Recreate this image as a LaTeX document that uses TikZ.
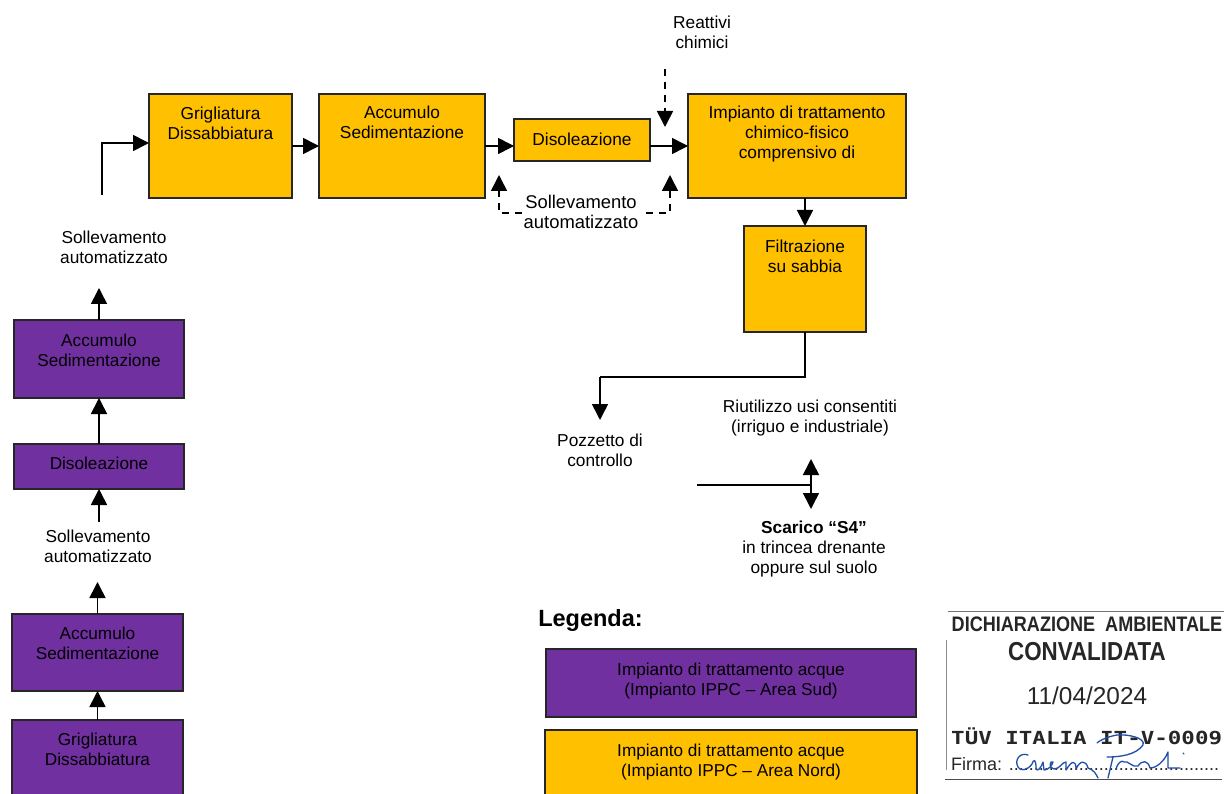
\documentclass[tikz,border=0pt]{standalone}
\usepackage{fontspec}
\setmainfont{Liberation Sans}
\newfontfamily\stampmono{DejaVu Sans Mono}
\usetikzlibrary{arrows.meta}
\definecolor{nordorange}{HTML}{FFC000}
\definecolor{sudpurple}{HTML}{7030A0}
\definecolor{inkblue}{HTML}{1F4FA8}
\newcommand{\boxtxt}[4]{\parbox[c][#2pt][t]{#1pt}{\centering\vspace{#3pt}#4}}
\tikzset{
  plant/.style={draw=black!85, line width=2pt, inner sep=0pt, outer sep=0pt, font=\fontsize{17.3}{20}\selectfont},
  north/.style={plant, fill=nordorange},
  south/.style={plant, fill=sudpurple, font=\fontsize{17.2}{19.6}\selectfont},
  flow/.style={line width=1.6pt, -{Triangle[length=16pt,width=16pt]}},
  flowdash/.style={flow, dash pattern=on 7pt off 6pt},
  note/.style={align=center, inner sep=0pt, font=\fontsize{17.3}{20}\selectfont},
  stamp/.style={inner sep=0pt, text=black!85},
  signature/.style={inkblue, line width=1.3pt, line cap=round, line join=round}
}
\begin{document}
\begin{tikzpicture}[x=1pt,y=-1pt]
  \clip (0,0) rectangle (1224,794);
  % plant north
  \node[north] (griglia) at (220.5,146) {\boxtxt{143}{104}{13}{Grigliatura\\Dissabbiatura}};
  \node[north] (accumulo) at (402,146) {\boxtxt{166}{104}{12}{Accumulo\\Sedimentazione}};
  \node[north] (disoleaz) at (582,140) {\boxtxt{136}{42}{14}{Disoleazione}};
  \node[north] (impianto) at (797,146) {\boxtxt{218}{104}{12}{Impianto di trattamento\\chimico-fisico\\comprensivo di}};
  \node[north] (filtraz) at (805,279) {\boxtxt{122}{106}{14}{Filtrazione\\su sabbia}};
  % plant south
  \node[south] (accumP) at (99,359) {\boxtxt{170}{78}{14}{Accumulo\\Sedimentazione}};
  \node[south] (disolP) at (99,466.5) {\boxtxt{170}{45}{13}{Disoleazione}};
  \node[south] (accumS) at (97.5,652.5) {\boxtxt{171}{77}{13}{Accumulo\\Sedimentazione}};
  \node[south] (grigliaS) at (97.5,775) {\boxtxt{171}{110}{13}{Grigliatura\\Dissabbiatura}};
  % labels
  \node[note] (reattivi) at (702,32) {Reattivi\\chimici};
  \node[note] (sollevA) at (114,247) {Sollevamento\\automatizzato};
  \node[note] (sollevB) at (98,546) {Sollevamento\\automatizzato};
  \node[note, font=\fontsize{18.4}{20}\selectfont] (sollevC) at (581,212) {Sollevamento\\automatizzato};
  \node[note] (riuso) at (810,418) {Riutilizzo usi consentiti\\(irriguo e industriale)};
  \node[note] (pozzetto) at (600,450) {Pozzetto di\\controllo};
  \node[note] (scarico) at (814,549) {\textbf{Scarico “S4”}\\in trincea drenante\\oppure sul suolo};
  % free ends
  \coordinate (start) at (102,195);
  \coordinate (ingriglia) at (149,143);
  \coordinate (inchem) at (665,69);
  \coordinate (tipchem) at (665,127);
  \coordinate (tipoilA) at (499,175);
  \coordinate (tipoilB) at (670,175);
  \coordinate (tipS) at (99,288);
  \coordinate (fork) at (811,485);
  \coordinate (forkin) at (697,485);
  \coordinate (tipup) at (811,459);
  \coordinate (tipdown) at (811,509);
  \coordinate (bendP) at (600,377);
  \coordinate (tipP) at (600,420);
  \coordinate (liftout) at (99,522);
  \coordinate (liftin) at (97.5,582);
  % arrows
  \draw[flow] (start) |- (ingriglia);
  \draw[flow] (griglia.east) -- (accumulo.west);
  \draw[flow] (accumulo.east) -- (accumulo.east -| disoleaz.west);
  \draw[flow] (impianto.west -| disoleaz.east) -- (impianto.west);
  \draw[flow] (filtraz.north |- impianto.south) -- (filtraz.north);
  \draw[line width=1.6pt] (filtraz.south) |- (bendP);
  \draw[flow] (bendP) -- (tipP);
  \draw[flow] (forkin) -- (fork) -- (tipup);
  \draw[flow] (fork) -- (tipdown);
  % dashed ones
  \draw[flowdash] ([xshift=-2pt]sollevC.west |- 0,213) -| (tipoilA);
  \draw[flowdash] ([xshift=8pt]sollevC.east |- 0,213) -| (tipoilB);
  \draw[flowdash] (inchem) -- (tipchem);
  % left column
  \draw[flow] (accumP.north) -- (tipS);
  \draw[flow] (disolP.north) -- (accumP.south);
  \draw[flow] (liftout) -- (disolP.south);
  \draw[flow] (accumS.north) -- (liftin);
  \draw[flow] (grigliaS.north) -- (accumS.south);
  % legend
  \node[inner sep=0pt, font=\fontsize{23.5}{26}\selectfont\bfseries] (legenda) at (590.5,620) {Legenda:};
  \node[south] (legS) at (731,683) {\boxtxt{370}{68}{14}{Impianto di trattamento acque\\(Impianto IPPC – Area Sud)}};
  \node[south, fill=nordorange] (legN) at (731,785) {\boxtxt{372}{110}{14}{Impianto di trattamento acque\\(Impianto IPPC – Area Nord)}};
  % stamp
  \draw[black!45, line width=0.7pt] (946,770) -- (946,640);
  \draw[black!55, line width=0.8pt] (948,611) -- (1224,611);
  \draw[black!70, line width=0.9pt] (945,779) -- (1222,779);
  \node[stamp] (dich) at (1087,624) {\fontsize{21}{22}\selectfont\bfseries\scalebox{0.86}[1]{DICHIARAZIONE\ \ AMBIENTALE}};
  \node[stamp] (conv) at (1087,652) {\fontsize{26}{28}\selectfont\bfseries\scalebox{0.86}[1]{CONVALIDATA}};
  \node[stamp] (datum) at (1087,696) {\fontsize{24.4}{26}\selectfont 11/04/2024};
  \node[stamp, anchor=west] (tuev) at (951,736) {\fontsize{22.5}{24}\selectfont\stampmono\bfseries\scalebox{1}[0.8]{TÜV ITALIA IT-V-0009}};
  \node[stamp, anchor=west] (firma) at (951,764) {\fontsize{18}{20}\selectfont Firma: ..........................................};
  % signature
  \draw[signature] (1028,755) .. controls (1020,752) and (1014,760) .. (1018,767)
    .. controls (1020,772) and (1028,770) .. (1032,764) .. controls (1034,758) and (1036,760) .. (1036,768)
    .. controls (1037,772) and (1040,770) .. (1043,762) -- (1044,770) .. controls (1048,770) and (1052,766) .. (1053,762)
    .. controls (1050,760) and (1048,768) .. (1054,769) .. controls (1060,769) and (1062,762) .. (1066,762)
    -- (1066,770) .. controls (1072,760) and (1076,760) .. (1076,769) .. controls (1080,760) and (1086,760) .. (1088,768)
    .. controls (1094,770) and (1096,774) .. (1098,778);
  \draw[signature] (1108,778) -- (1113,757);
  \draw[signature] (1107,757) .. controls (1120,757) and (1136,755) .. (1143,745)
    .. controls (1146,738) and (1128,734) .. (1117,735) .. controls (1110,736) and (1100,740) .. (1097,743);
  \draw[signature] (1116,769) .. controls (1118,762) and (1122,760) .. (1124,762)
    .. controls (1128,760) and (1132,768) .. (1138,766) .. controls (1142,760) and (1148,760) .. (1150,768)
    .. controls (1156,768) and (1164,762) .. (1168,752) -- (1168,768) -- (1180,768) (1183,753) -- (1184,754);
\end{tikzpicture}
\end{document}
